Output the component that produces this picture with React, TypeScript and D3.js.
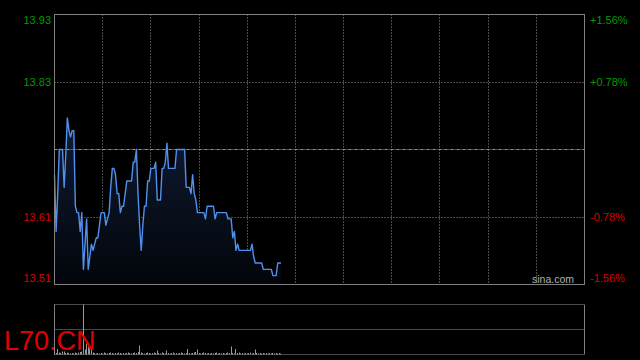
import React from "react";
import * as d3 from "d3";

const prevClose = 13.72;
const pctTicks = [0.0156, 0.0078, -0.0078, -0.0156];
const priceLabels = ["13.93", "13.83", "13.61", "13.51"];
const pctLabels = ["+1.56%", "+0.78%", "-0.78%", "-1.56%"];
const sessionMinutes = 330;
const gridCols = 11;

const prices = [
  13.68, 13.59, 13.65, 13.72, 13.72, 13.72, 13.66, 13.71, 13.77, 13.75,
  13.74, 13.75, 13.75, 13.63, 13.62, 13.62, 13.59, 13.62, 13.53, 13.57,
  13.61, 13.53, 13.55, 13.57, 13.56, 13.57, 13.58, 13.58, 13.60, 13.62,
  13.62, 13.62, 13.60, 13.61, 13.62, 13.66, 13.69, 13.69, 13.68, 13.65,
  13.65, 13.62, 13.63, 13.63, 13.65, 13.67, 13.67, 13.67, 13.67, 13.70,
  13.70, 13.72, 13.65, 13.60, 13.56, 13.60, 13.63, 13.63, 13.67, 13.67,
  13.69, 13.69, 13.69, 13.70, 13.64, 13.64, 13.64, 13.69, 13.69, 13.70,
  13.73, 13.69, 13.69, 13.69, 13.69, 13.69, 13.72, 13.72, 13.72, 13.72,
  13.72, 13.72, 13.66, 13.66, 13.66, 13.65, 13.68, 13.65, 13.64, 13.62,
  13.62, 13.62, 13.62, 13.62, 13.61, 13.63, 13.63, 13.63, 13.63, 13.63,
  13.61, 13.62, 13.62, 13.62, 13.62, 13.62, 13.62, 13.62, 13.61, 13.61,
  13.61, 13.58, 13.59, 13.56, 13.57, 13.56, 13.56, 13.56, 13.56, 13.56,
  13.56, 13.56, 13.56, 13.57, 13.55, 13.54, 13.54, 13.54, 13.54, 13.54,
  13.53, 13.53, 13.53, 13.53, 13.53, 13.53, 13.52, 13.52, 13.52, 13.54,
  13.54, 13.54,
];

const volumes = [
  8, 3, 11, 4, 3, 6, 6, 3, 4, 3,
  2, 3, 2, 4, 3, 4, 5, 6, 100, 10,
  24, 20, 14, 10, 4, 3, 2, 3, 2, 3,
  2, 4, 3, 2, 3, 4, 3, 2, 3, 2,
  4, 3, 2, 3, 2, 3, 4, 3, 2, 3,
  4, 3, 5, 18, 4, 3, 2, 3, 4, 3,
  2, 3, 4, 3, 8, 3, 2, 4, 3, 2,
  8, 3, 2, 3, 4, 2, 3, 2, 3, 4,
  3, 2, 3, 11, 3, 2, 3, 4, 5, 10,
  3, 2, 3, 4, 3, 2, 3, 2, 3, 2,
  3, 4, 2, 3, 2, 3, 2, 3, 4, 3,
  16, 3, 2, 11, 3, 4, 2, 3, 2, 3,
  2, 3, 4, 2, 3, 10, 3, 2, 3, 2,
  3, 2, 3, 2, 3, 2, 3, 2, 3, 2,
  3, 2,
];

const W = 640;
const H = 360;
const L = 54.5, R = 584.5, T = 14.5, B = 284.5;
const VT = 304.5, VB = 354.5;

export default function App() {
  const x = d3.scaleLinear().domain([0, sessionMinutes]).range([L, R]);
  const y = d3
    .scaleLinear()
    .domain([prevClose * (1 - 0.0156), prevClose * (1 + 0.0156)])
    .range([B, T]);
  const vy = d3.scaleLinear().domain([0, d3.max(volumes) as number]).range([VB, VT]);

  const line = d3
    .line<number>()
    .x((_, i) => x(i))
    .y((d) => y(d));
  const area = d3
    .area<number>()
    .x((_, i) => x(i))
    .y0(B)
    .y1((d) => y(d));

  const snap = (v: number) => Math.round(v - 0.5) + 0.5;
  const cols = d3.range(1, gridCols).map((k) => snap(L + ((R - L) * k) / gridCols));
  const tickYs = pctTicks.map((p) => snap(y(prevClose * (1 + p))));
  const midY = snap(y(prevClose));
  const labelY = (yy: number) => Math.min(Math.max(yy, T + 6), B - 6);

  const grid = "#959595";
  const frame = "#808080";
  const font = "'Liberation Sans', Arial, sans-serif";

  return (
    <svg
      width={W}
      height={H}
      style={{ position: "fixed", left: 0, top: 0, display: "block" }}
    >
      <defs>
        <linearGradient id="fillGrad" gradientUnits="userSpaceOnUse" x1="0" y1="120" x2="0" y2={B}>
          <stop offset="0" stopColor="#0f1c33" />
          <stop offset="1" stopColor="#03050a" />
        </linearGradient>
      </defs>
      <rect x={0} y={0} width={W} height={H} fill="#000" />

      {cols.map((cx, i) => (
        <line key={"v" + i} x1={cx} x2={cx} y1={T} y2={B} stroke={grid} strokeDasharray="1,2" />
      ))}
      {tickYs.slice(1, 3).map((ty, i) => (
        <line key={"h" + i} x1={L} x2={R} y1={ty} y2={ty} stroke={grid} strokeDasharray="1,2" />
      ))}

      <path d={area(prices) as string} fill="url(#fillGrad)" />
      <line x1={L} x2={R} y1={midY} y2={midY} stroke="#9a9a9a" strokeDasharray="3,1,1,1" />
      <path d={line(prices) as string} fill="none" stroke="#5090ee" strokeWidth={1.4} strokeLinejoin="round" />

      <rect x={L} y={T} width={R - L} height={B - T} fill="none" stroke={frame} />

      {priceLabels.map((t, i) => (
        <text
          key={"pl" + i}
          x={51}
          y={labelY(tickYs[i])}
          dy="0.36em"
          textAnchor="end"
          fontFamily={font}
          fontSize={11}
          fill={pctTicks[i] > 0 ? "#009a00" : "#d80000"}
        >
          {t}
        </text>
      ))}
      {pctLabels.map((t, i) => (
        <text
          key={"pr" + i}
          x={590}
          y={labelY(tickYs[i])}
          dy="0.36em"
          textAnchor="start"
          fontFamily={font}
          fontSize={11}
          fill={pctTicks[i] > 0 ? "#009a00" : "#d80000"}
        >
          {t}
        </text>
      ))}

      <text x={574} y={283} textAnchor="end" fontFamily={font} fontSize={10.5} fill="#b0b0b0">
        sina.com
      </text>

      <line x1={L} x2={R} y1={VT} y2={VT} stroke={grid} strokeDasharray="1,1" />
      <line x1={L} x2={R} y1={(VT + VB) / 2} y2={(VT + VB) / 2} stroke={grid} strokeDasharray="1,1" />
      <line x1={L} x2={R} y1={VB} y2={VB} stroke={grid} strokeDasharray="1,1" />
      <line x1={L} x2={L} y1={VT} y2={VB} stroke={frame} />
      <line x1={R} x2={R} y1={VT} y2={VB} stroke={frame} />
      {volumes.map((v, i) => (
        <line
          key={"vol" + i}
          x1={snap(x(i))}
          x2={snap(x(i))}
          y1={VB}
          y2={Math.min(vy(v), VB - 1)}
          stroke="#9a9a9a"
          strokeWidth={1}
        />
      ))}

      <text x={4} y={349.5} fontFamily={font} fontSize={27} fill="#e00000">
        L70.CN
      </text>
    </svg>
  );
}
